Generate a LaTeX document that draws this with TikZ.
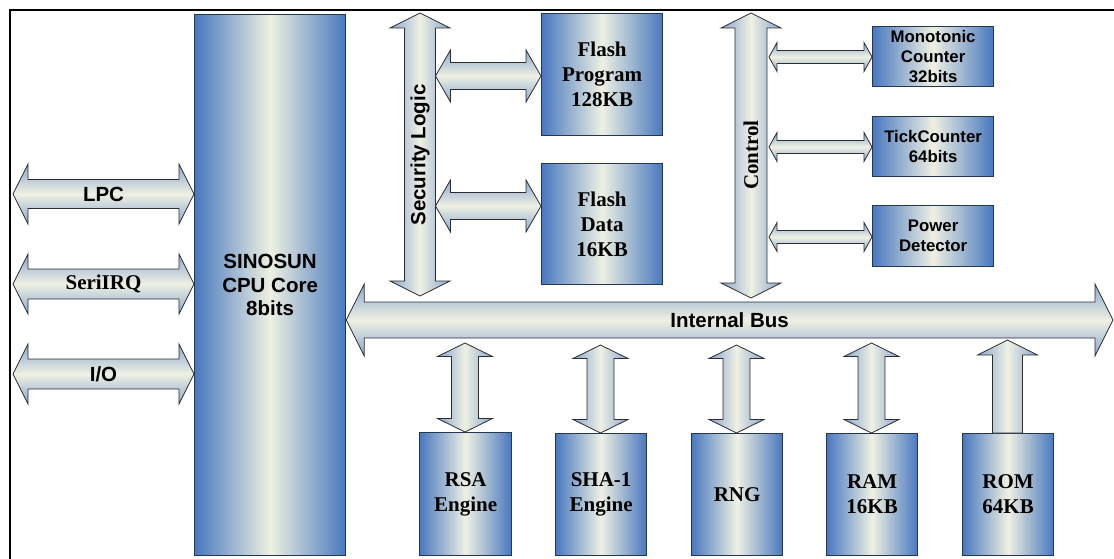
\documentclass[tikz,border=0pt]{standalone}
\usepackage{fontspec}
\setmainfont{Liberation Serif}
\setsansfont{Liberation Sans}
\usetikzlibrary{calc}
\definecolor{boxblue}{RGB}{72,120,190}
\definecolor{cream}{RGB}{238,240,226}
\definecolor{arredge}{RGB}{138,166,208}
\definecolor{boxline}{RGB}{35,55,85}
\definecolor{arrline}{RGB}{45,45,45}
\newcommand\blockH[5]{\path[harr] let \p1=(#1), \p2=(#2) in
 (\x1,\y1) -- (\x1+#5pt,\y1+#4pt) -- (\x1+#5pt,\y1+#3pt) -- (\x2-#5pt,\y1+#3pt) -- (\x2-#5pt,\y1+#4pt) -- (\x2,\y1) -- (\x2-#5pt,\y1-#4pt) -- (\x2-#5pt,\y1-#3pt) -- (\x1+#5pt,\y1-#3pt) -- (\x1+#5pt,\y1-#4pt) -- cycle;}
\newcommand\blockV[5]{\path[varr] let \p1=(#1), \p2=(#2) in
 (\x1,\y1) -- (\x1+#4pt,\y1-#5pt) -- (\x1+#3pt,\y1-#5pt) -- (\x1+#3pt,\y2+#5pt) -- (\x1+#4pt,\y2+#5pt) -- (\x1,\y2) -- (\x1-#4pt,\y2+#5pt) -- (\x1-#3pt,\y2+#5pt) -- (\x1-#3pt,\y1-#5pt) -- (\x1-#4pt,\y1-#5pt) -- cycle;}
\newcommand\blockUp[5]{\path[varr] let \p1=(#1), \p2=(#2) in
 (\x1,\y1) -- (\x1+#4pt,\y1-#5pt) -- (\x1+#3pt,\y1-#5pt) -- (\x1+#3pt,\y2) -- (\x1-#3pt,\y2) -- (\x1-#3pt,\y1-#5pt) -- (\x1-#4pt,\y1-#5pt) -- cycle;}
\tikzset{
 harr/.style={draw=arrline, line width=0.8pt, top color=arredge, bottom color=arredge, middle color=cream},
 varr/.style={draw=arrline, line width=0.8pt, left color=arredge, right color=arredge, middle color=cream},
 blk/.style={draw=boxline, line width=1.2pt, left color=boxblue, right color=boxblue, middle color=cream, inner sep=0pt, align=center, anchor=north west},
 sansbig/.style={font=\fontsize{20.5}{23.5}\selectfont\sffamily\bfseries},
 sanssmall/.style={font=\fontsize{16.8}{20}\selectfont\sffamily\bfseries},
 serifbig/.style={font=\fontsize{21}{25}\selectfont\rmfamily\bfseries},
 lbl/.style={inner sep=0pt, align=center}
}
\begin{document}
\begin{tikzpicture}[x=1pt,y=-1pt]
\useasboundingbox (0,0) rectangle (1114,559);
\draw[line width=2pt] (10,559) -- (10,10) -- (1114,10);
% boxes
\node[blk, sansbig, minimum width=151pt, minimum height=541pt] (cpu) at (194,14) {SINOSUN\\CPU Core\\8bits};
\node[blk, serifbig, minimum width=121pt, minimum height=122pt] (fprog) at (541,13) {Flash\\Program\\128KB};
\node[blk, serifbig, minimum width=121pt, minimum height=121pt] (fdata) at (541,163) {Flash\\Data\\16KB};
\node[blk, sanssmall, minimum width=121pt, minimum height=60pt] (mono) at (872,26) {Monotonic\\Counter\\32bits};
\node[blk, sanssmall, minimum width=121pt, minimum height=60pt] (tick) at (872,116) {TickCounter\\64bits};
\node[blk, sanssmall, minimum width=121pt, minimum height=61pt] (power) at (872,205) {Power\\Detector};
\node[blk, serifbig, minimum width=92pt, minimum height=123pt] (rsa) at (419,432) {RSA\\Engine};
\node[blk, serifbig, minimum width=91pt, minimum height=122pt] (sha) at (555,433) {SHA-1\\Engine};
\node[blk, serifbig, minimum width=91pt, minimum height=122pt] (rng) at (691,433) {RNG};
\node[blk, serifbig, minimum width=91pt, minimum height=122pt] (ram) at (826,433) {RAM\\16KB};
\node[blk, serifbig, minimum width=91pt, minimum height=122pt] (rom) at (962,433) {ROM\\64KB};
% coordinates
\coordinate (lpcL) at (13,194);
\coordinate (seriL) at (13,284);
\coordinate (ioL) at (13,374);
\coordinate (secT) at (420,13);
\coordinate (secB) at (420,296);
\coordinate (ctlT) at (751,13);
\coordinate (ctlB) at (751,298);
\coordinate (fpL) at (435.5,76);
\coordinate (fdL) at (435.5,206);
\coordinate (monoL) at (769,57);
\coordinate (tickL) at (769,147);
\coordinate (powL) at (769,237);
\coordinate (busR) at (1113,320);
\coordinate (rsaT) at (465,343);
\coordinate (shaT) at (600.5,345);
\coordinate (rngT) at (736.5,345);
\coordinate (ramT) at (871.5,343);
\coordinate (romT) at (1007.5,340);
% arrows
\blockH{lpcL}{cpu.west |- lpcL}{14.5}{30}{15}
\blockH{seriL}{cpu.west |- seriL}{15}{30}{15}
\blockH{ioL}{cpu.west |- ioL}{15}{30}{15}
\blockV{secT}{secB}{15.5}{30}{15}
\blockV{ctlT}{ctlB}{16}{30}{15}
\blockH{fpL}{fprog.west |- fpL}{13.5}{26}{15}
\blockH{fdL}{fdata.west |- fdL}{13.5}{26}{15}
\blockH{monoL}{mono.west |- monoL}{6.5}{14.5}{8}
\blockH{tickL}{tick.west |- tickL}{6.5}{14.5}{8}
\blockH{powL}{power.west |- powL}{6.5}{14.5}{8}
\blockH{cpu.east |- busR}{busR}{18}{36}{18}
\blockV{rsaT}{rsa.north}{13.5}{27.5}{13.5}
\blockV{shaT}{sha.north}{13.5}{27.5}{13.5}
\blockV{rngT}{rng.north}{13.5}{27.5}{13.5}
\blockV{ramT}{ram.north}{13.5}{27.5}{13.5}
\blockUp{romT}{rom.north}{15}{30}{15}
% labels
\node[lbl, sansbig] (lpct) at ($(lpcL)!0.5!(cpu.west |- lpcL)$) {LPC};
\node[lbl, serifbig] (serit) at ($(seriL)!0.5!(cpu.west |- seriL)$) {SeriIRQ};
\node[lbl, sansbig] (iot) at ($(ioL)!0.5!(cpu.west |- ioL)$) {I/O};
\node[lbl, sansbig, rotate=90] (sect) at (420,155) {Security Logic};
\node[lbl, serifbig, rotate=90] (ctlt) at (751,155) {Control};
\node[lbl, sansbig] (bust) at ($(cpu.east |- busR)!0.5!(busR)$) {Internal Bus};
\end{tikzpicture}
\end{document}
